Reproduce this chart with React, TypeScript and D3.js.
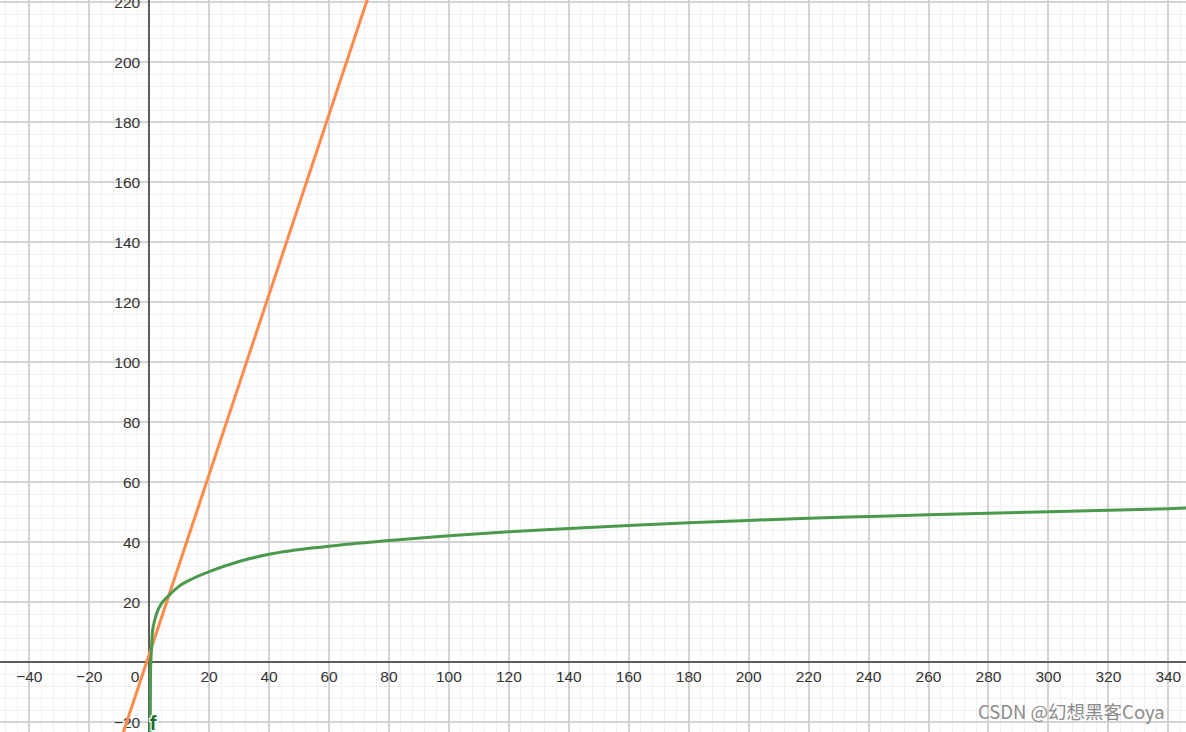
import React from "react";
import * as d3 from "d3";

// values
const xTicks = [-40, -20, 20, 40, 60, 80, 100, 120, 140, 160, 180, 200, 220, 240, 260, 280, 300, 320, 340];
const yTicks = [-20, 20, 40, 60, 80, 100, 120, 140, 160, 180, 200, 220];

const curveX = [0.35, 0.4, 0.45, 0.55, 0.7, 1.1, 2, 2.8, 4, 6.7, 10, 13.3, 20, 30, 40, 60, 80, 100, 120, 140, 160, 180, 200, 220, 240, 260, 280, 300, 320, 340, 346];
const curveY = [-25, -12, -4, 0, 3, 10, 14.5, 17, 19.3, 22.3, 25.3, 27.2, 30.1, 33.5, 35.9, 38.6, 40.5, 42.1, 43.4, 44.5, 45.5, 46.4, 47.2, 47.9, 48.5, 49.1, 49.6, 50.1, 50.6, 51.1, 51.3];

const lineX = [-10, 75];
const lineY = [-27.5, 227.5];

const W = 1186;
const H = 732;

export default function App() {
  const x = d3.scaleLinear().domain([-49.77, 345.9]).range([0, W]);
  const y = d3.scaleLinear().domain([-23.33, 220.67]).range([H, 0]);

  const minorX = d3.range(-48, 348, 4).filter((v) => v % 20 !== 0);
  const minorY = d3.range(-20, 224, 4).filter((v) => v % 20 !== 0);
  const majorX = d3.range(-40, 348, 20).filter((v) => v !== 0);
  const majorY = d3.range(-20, 224, 20).filter((v) => v !== 0);

  const green = d3
    .line<number>()
    .x((_, i) => x(curveX[i]))
    .y((d) => y(d))
    .curve(d3.curveMonotoneX)(curveY);
  const orange = d3
    .line<number>()
    .x((_, i) => x(lineX[i]))
    .y((d) => y(d))(lineY);

  const fmt = (v: number) => (v < 0 ? "\u2212" + Math.abs(v) : String(v));
  const font = "'Liberation Sans', Arial, sans-serif";

  return (
    <svg width={W} height={H} style={{ position: "absolute", left: 0, top: 0, background: "#fff" }}>
      <g shapeRendering="crispEdges">
        {minorX.map((v) => (
          <line key={"mx" + v} x1={x(v)} x2={x(v)} y1={0} y2={H} stroke="#f0f0f0" strokeWidth={1} />
        ))}
        {minorY.map((v) => (
          <line key={"my" + v} x1={0} x2={W} y1={y(v)} y2={y(v)} stroke="#f0f0f0" strokeWidth={1} />
        ))}
        {majorX.map((v) => (
          <line key={"Mx" + v} x1={x(v)} x2={x(v)} y1={0} y2={H} stroke="#d3d3d3" strokeWidth={2} />
        ))}
        {majorY.map((v) => (
          <line key={"My" + v} x1={0} x2={W} y1={y(v)} y2={y(v)} stroke="#d3d3d3" strokeWidth={2} />
        ))}
        <line x1={0} x2={W} y1={y(0)} y2={y(0)} stroke="#5c5c5c" strokeWidth={1.5} />
        <line x1={x(0)} x2={x(0)} y1={0} y2={H} stroke="#5c5c5c" strokeWidth={1.5} />
      </g>

      <g fontFamily={font} fontSize={15.5} fill="#333">
        {xTicks.map((v) => (
          <text key={"tx" + v} x={x(v)} y={y(0) + 20} textAnchor="middle">
            {fmt(v)}
          </text>
        ))}
        {yTicks.map((v) => (
          <text key={"ty" + v} x={x(0) - 9} y={y(v) + 5.5} textAnchor="end">
            {fmt(v)}
          </text>
        ))}
        <text x={x(0) - 14} y={y(0) + 20} textAnchor="middle">0</text>
      </g>

      <path d={orange ?? ""} fill="none" stroke="#ff8a4c" strokeWidth={3} />
      <path d={green ?? ""} fill="none" stroke="#4a9a4c" strokeWidth={3} strokeLinejoin="round" />
      <text
        x={x(0) + 0.5}
        y={H - 2}
        fontFamily={font}
        fontSize={20}
        fontWeight="bold"
        fill="#1f6e23"
        stroke="#fff"
        strokeWidth={2.5}
        paintOrder="stroke"
      >
        f
      </text>

      <text x={978} y={719} fontFamily="'Noto Sans CJK SC', 'Liberation Sans', sans-serif" fontSize={18.5} fill="#8c8c8c">
        CSDN @幻想黑客Coya
      </text>
    </svg>
  );
}
